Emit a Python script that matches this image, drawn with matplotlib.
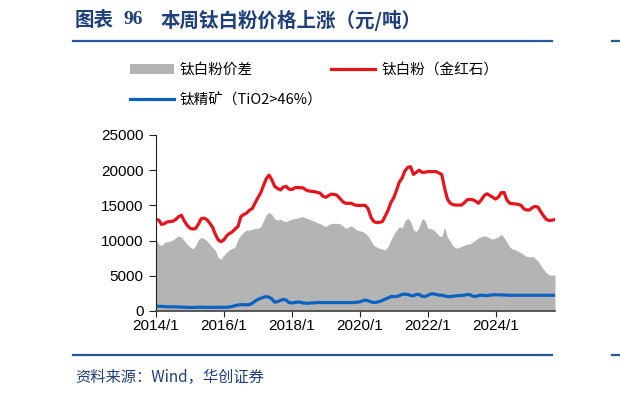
import matplotlib
matplotlib.use("Agg")
import matplotlib.pyplot as plt
import numpy as np
import pandas as pd

plt.rcParams['font.family'] = ['Noto Sans CJK SC', 'DejaVu Sans']

# 月度数据 2014/1 - 2025/10
dates = pd.date_range('2014-01-01', periods=142, freq='MS')

# 钛白粉（金红石）
rutile = [13000, 12900, 12300, 12400, 12650, 12700, 12750, 13000, 13400, 13600,
          12800, 12200, 11750, 11650, 11700, 12300, 13100, 13200, 13000, 12500,
          11900, 10900, 10100, 9850, 10100, 10700, 11000, 11250, 11650, 12000,
          13400, 13700, 13900, 14300, 14550, 15300, 16100, 16800, 17800, 18800,
          19300, 18600, 17700, 17400, 17200, 17600, 17700, 17300, 17250, 17500,
          17550, 17500, 17500, 17200, 17050, 17000, 16950, 16850, 16750, 16300,
          16150, 16400, 16600, 16550, 16450, 16000, 15550, 15300, 15300, 15300,
          15100, 15000, 15000, 15000, 15000, 14500, 13300, 12700, 12550, 12600,
          12700, 13500, 14300, 15400, 16100, 17200, 18300, 18900, 19900, 20400,
          20500, 19400, 19700, 20000, 19700, 19700, 19800, 19800, 19800, 19800,
          19600, 19400, 17500, 15900, 15300, 15100, 15050, 15050, 15050, 15400,
          15800, 15850, 15800, 15600, 15300, 15800, 16400, 16650, 16400, 16150,
          15900, 16200, 16800, 16850, 15800, 15300, 15250, 15200, 15150, 15000,
          14500, 14350, 14350, 14700, 14850, 14750, 14100, 13500, 13000, 12850,
          12900, 13000]

# 钛精矿（TiO2>46%）
ore = [700, 680, 650, 620, 600, 600, 600, 590, 580, 560,
       540, 520, 500, 500, 520, 540, 540, 520, 520, 520,
       520, 520, 520, 520, 520, 530, 560, 650, 760, 850,
       900, 900, 880, 900, 1100, 1400, 1650, 1800, 1950, 2050,
       1950, 1700, 1250, 1350, 1500, 1650, 1550, 1200, 1150, 1200,
       1280, 1250, 1150, 1100, 1100, 1150, 1150, 1200, 1200, 1200,
       1200, 1200, 1200, 1200, 1200, 1200, 1200, 1200, 1200, 1200,
       1200, 1250, 1300, 1450, 1550, 1450, 1300, 1200, 1250, 1350,
       1500, 1700, 1850, 2050, 2050, 2050, 2200, 2350, 2400, 2350,
       2200, 2150, 2350, 2350, 2100, 2050, 2200, 2400, 2450, 2350,
       2250, 2250, 2150, 2050, 2050, 2100, 2150, 2200, 2200, 2250,
       2350, 2300, 2100, 2050, 2200, 2250, 2200, 2200, 2250, 2300,
       2300, 2300, 2280, 2250, 2230, 2230, 2230, 2230, 2230, 2230,
       2230, 2230, 2230, 2230, 2230, 2230, 2230, 2230, 2230, 2230,
       2230, 2230]

# 钛白粉价差
spread = [10100, 9500, 9300, 9700, 9850, 9900, 10100, 10400, 10650, 10500,
          10000, 9500, 9100, 8800, 9300, 10100, 10450, 10300, 10000, 9500,
          9000, 8600, 7600, 7400, 7900, 8400, 8700, 8900, 9100, 10200,
          10800, 11200, 11500, 11500, 11600, 11750, 11750, 12000, 12800, 13700,
          14000, 13700, 13100, 12900, 13050, 12800, 12700, 12900, 13050, 13150,
          13200, 13350, 13400, 13200, 13050, 12900, 12750, 12550, 12400, 12150,
          12000, 12250, 12450, 12450, 12450, 12400, 12100, 11750, 11900, 12100,
          11800, 11500, 11400, 11300, 11050, 10600, 9950, 9300, 9100, 8900,
          8800, 8650, 9200, 10100, 10900, 11500, 12000, 11800, 12800, 13200,
          12700, 11500, 11300, 11900, 13100, 12900, 11800, 11700, 11550, 11200,
          10700, 10550, 11900, 10500, 9900, 9200, 8950, 9000, 9200, 9350,
          9500, 9550, 9800, 10100, 10400, 10550, 10650, 10600, 10350, 10200,
          10400, 10550, 10900, 10450, 9800, 9100, 8800, 8700, 8450, 8300,
          8000, 7750, 7700, 7750, 7500, 7100, 6500, 5900, 5400, 5100,
          5100, 5150]

yticks = [0, 5000, 10000, 15000, 20000, 25000]
xtick_years = [2014, 2016, 2018, 2020, 2022, 2024]

navy = '#1f3f7a'
fig = plt.figure(figsize=(6.2, 3.96), dpi=100)

# 标题
ty = 1 - 20 / 396
fig.text(75 / 620, ty, '图表', fontsize=14, fontweight='bold', color=navy, va='center', ha='left')
fig.text(123 / 620, ty, '96', fontsize=14, fontweight='bold', family=['Liberation Serif'],
         color=navy, va='center', ha='left')
fig.text(161 / 620, ty, '本周钛白粉价格上涨（元/吨）', fontsize=14,
         fontweight='bold', color=navy, va='center', ha='left')
for yy in [41, 355]:
    fig.add_artist(plt.Line2D([73 / 620, 552 / 620], [1 - yy / 396] * 2, color='#2b5797', lw=1.6))
    fig.add_artist(plt.Line2D([612 / 620, 1.0], [1 - yy / 396] * 2, color='#2b5797', lw=1.6))
fig.text(75 / 620, 1 - 377 / 396, '资料来源：Wind，华创证券', fontsize=11, style='italic',
         color=navy, va='center', ha='left')

ax = fig.add_axes([156 / 620, 85 / 396, (555 - 156) / 620, 176 / 396])
ax.fill_between(dates, 0, spread, color='#b4b4b4', lw=0, label='钛白粉价差')
ax.plot(dates, rutile, color='#e8141c', lw=2.3, label='钛白粉（金红石）')
ax.plot(dates, ore, color='#0b63c1', lw=2.3, label='钛精矿（TiO2>46%）')

ax.set_xlim(dates[0], dates[-1])
ax.set_ylim(0, 25000)
ax.set_yticks(yticks)
ax.set_yticklabels([str(v) for v in yticks], family=['Liberation Sans'], fontsize=11)
xt = [pd.Timestamp(f'{y}-01-01') for y in xtick_years]
ax.set_xticks(xt)
ax.set_xticklabels([f'{y}/1' for y in xtick_years], family=['Liberation Sans'], fontsize=11)
for s in ['top', 'right']:
    ax.spines[s].set_visible(False)
ax.spines['left'].set_color('#222222')
ax.spines['bottom'].set_color('#444444')
ax.spines['bottom'].set_linewidth(1.2)
ax.tick_params(axis='y', direction='out', length=5, color='#222222', pad=4)
ax.tick_params(axis='x', direction='out', length=4, color='#222222', pad=2)

# 图例
h, l = ax.get_legend_handles_labels()
fig.legend(h[:2], l[:2], loc='center left', bbox_to_anchor=(130 / 620, 1 - 70 / 396),
           ncol=2, frameon=False, fontsize=10.5, handlelength=3.0, handletextpad=0.4,
           columnspacing=5.4, borderaxespad=0, borderpad=0)
fig.legend(h[2:], l[2:], loc='center left', bbox_to_anchor=(130 / 620, 1 - 100 / 396),
           frameon=False, fontsize=10.5, handlelength=3.0, handletextpad=0.4,
           borderaxespad=0, borderpad=0)

fig.savefig('out.png', dpi=100)
